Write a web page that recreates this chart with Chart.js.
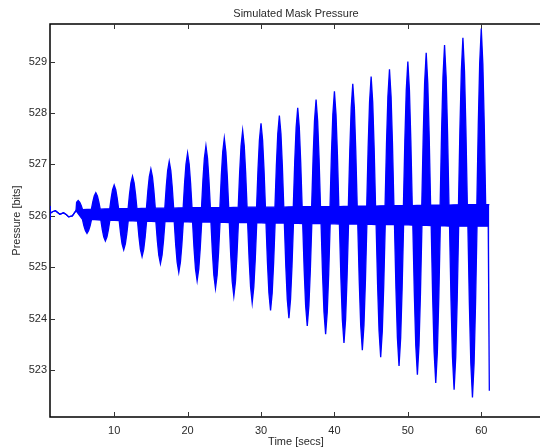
<!DOCTYPE html>
<html lang="en">
<head>
    <meta charset="UTF-8">
    <title>Simulated Mask Pressure</title>
    <script src="https://cdn.jsdelivr.net/npm/chart.js"></script>
    <style>
        html, body { margin: 0; padding: 0; background: #ffffff; }
        #chart { display: block; }
    </style>
</head>
<body>
    <canvas id="chart" width="540" height="447"></canvas>

    <script>
        // axis text
        const chartTitle = 'Simulated Mask Pressure';
        const xLabel = 'Time [secs]';
        const yLabel = 'Pressure [bits]';

        // axis limits and ticks
        const xMin = 1.26, xMax = 68;
        const yMin = 522.09, yMax = 529.73;
        const xTicks = [10, 20, 30, 40, 50, 60];
        const yTicks = [523, 524, 525, 526, 527, 528, 529];

        // thin start of the trace, before the dense band begins
        const startTime = 1.27;
        const startTop = 526.19;
        const startBottom = 525.93;
        const earlyTimes = [1.3, 1.6, 2.0, 2.6, 3.1, 3.5, 3.8, 4.3, 4.8];
        const earlyValues = [526.05, 526.08, 526.10, 526.03, 526.06, 526.02, 525.98, 526.00, 526.10];

        // upward spikes (one per breath)
        const peakTimes = [5.1, 7.5, 10, 12.5, 15, 17.5, 20, 22.5, 25, 27.5, 30, 32.5,
                           35, 37.5, 40, 42.5, 45, 47.5, 50, 52.5, 55, 57.5, 60];
        const peakValues = [526.30, 526.45, 526.60, 526.77, 526.91, 527.06, 527.22, 527.36,
                            527.51, 527.66, 527.80, 527.95, 528.10, 528.26, 528.42, 528.57,
                            528.71, 528.85, 529.00, 529.17, 529.32, 529.46, 529.64];
        // top edge of the dense band around each upward spike
        const bandTopValues = [526.12, 526.13, 526.14, 526.14, 526.15, 526.15, 526.16, 526.16,
                               526.16, 526.17, 526.17, 526.17, 526.18, 526.18, 526.18, 526.19,
                               526.19, 526.20, 526.20, 526.21, 526.21, 526.22, 526.22];

        // downward spikes
        const troughTimes = [6.3, 8.8, 11.3, 13.8, 16.3, 18.8, 21.3, 23.8, 26.3, 28.8, 31.3,
                             33.8, 36.3, 38.8, 41.3, 43.8, 46.3, 48.8, 51.3, 53.8, 56.3, 58.8];
        const troughValues = [525.66, 525.51, 525.34, 525.21, 525.07, 524.90, 524.74, 524.59,
                              524.44, 524.31, 524.16, 524.01, 523.86, 523.70, 523.53, 523.39,
                              523.25, 523.08, 522.91, 522.75, 522.62, 522.47];
        // bottom edge of the dense band around each downward spike
        const bandBottomValues = [525.93, 525.92, 525.91, 525.90, 525.89, 525.89, 525.88, 525.88,
                                  525.87, 525.87, 525.86, 525.86, 525.85, 525.85, 525.84, 525.84,
                                  525.83, 525.83, 525.82, 525.81, 525.80, 525.80];

        // end of the trace: a last drop
        const endTime = 61.1;
        const endValue = 522.6;

        // spike profile (offset as share of half width, height share)
        const lobeOffsets = [-1, -0.68, -0.36, 0, 0.36, 0.68, 1];
        const lobeHeights = [0, 0.45, 0.8, 1, 0.8, 0.45, 0];
        const peakHalfWidth = 0.6;
        const troughHalfWidth = 0.62;

        function addLobe(points, t, base, extreme, hw) {
            lobeOffsets.forEach((o, i) => {
                const x = t + o * hw;
                if (points.length && x <= points[points.length - 1].x) return;
                points.push({ x: x, y: base + lobeHeights[i] * (extreme - base) });
            });
        }

        const upper = [{ x: startTime, y: startTop }];
        const lower = [{ x: startTime, y: startBottom }];
        earlyTimes.forEach((t, i) => {
            upper.push({ x: t, y: earlyValues[i] });
            lower.push({ x: t, y: earlyValues[i] });
        });
        peakTimes.forEach((t, i) => addLobe(upper, t, bandTopValues[i], peakValues[i], peakHalfWidth));
        upper.push({ x: endTime, y: bandTopValues[bandTopValues.length - 1] });

        troughTimes.forEach((t, i) => addLobe(lower, t, bandBottomValues[i], troughValues[i], troughHalfWidth));
        lower.push({ x: endTime - 0.15, y: bandBottomValues[bandBottomValues.length - 1] });
        lower.push({ x: endTime, y: endValue });

        const textColor = '#2a2a2a';
        const fontFamily = '"Liberation Sans", Arial, sans-serif';

        const framePlugin = {
            id: 'frame',
            beforeDatasetsDraw(chart) {
                const { ctx, chartArea: a, scales } = chart;
                ctx.save();
                ctx.strokeStyle = '#000000';
                ctx.lineWidth = 1.5;
                ctx.beginPath();
                ctx.moveTo(a.right + 2, a.top);
                ctx.lineTo(a.left, a.top);
                ctx.lineTo(a.left, a.bottom);
                ctx.lineTo(a.right + 2, a.bottom);
                ctx.stroke();

                ctx.lineWidth = 1;
                ctx.strokeStyle = '#333333';
                ctx.beginPath();
                xTicks.forEach(v => {
                    const px = Math.round(scales.x.getPixelForValue(v)) + 0.5;
                    ctx.moveTo(px, a.bottom);
                    ctx.lineTo(px, a.bottom - 5);
                    ctx.moveTo(px, a.top);
                    ctx.lineTo(px, a.top + 5);
                });
                yTicks.forEach(v => {
                    const py = Math.round(scales.y.getPixelForValue(v)) + 0.5;
                    ctx.moveTo(a.left, py);
                    ctx.lineTo(a.left + 5, py);
                });
                ctx.stroke();
                ctx.restore();
            },
            afterDraw(chart) {
                const { ctx, chartArea: a } = chart;
                ctx.save();
                ctx.fillStyle = textColor;
                ctx.font = '11px ' + fontFamily;
                ctx.textAlign = 'center';
                ctx.textBaseline = 'middle';
                ctx.fillText(chartTitle, 296, 14);
                ctx.fillText(xLabel, 296, 442);
                ctx.translate(17, (a.top + a.bottom) / 2);
                ctx.rotate(-Math.PI / 2);
                ctx.fillText(yLabel, 0, 0);
                ctx.restore();
            }
        };

        new Chart(document.getElementById('chart').getContext('2d'), {
            type: 'line',
            data: {
                datasets: [
                    {
                        data: upper,
                        borderColor: '#0000ff',
                        backgroundColor: '#0000ff',
                        borderWidth: 1.3,
                        pointRadius: 0,
                        tension: 0,
                        fill: '+1'
                    },
                    {
                        data: lower,
                        borderColor: '#0000ff',
                        backgroundColor: '#0000ff',
                        borderWidth: 1.3,
                        pointRadius: 0,
                        tension: 0,
                        fill: false
                    }
                ]
            },
            options: {
                responsive: false,
                animation: false,
                devicePixelRatio: 1,
                layout: { padding: { top: 24, right: 0, bottom: 0, left: 0 } },
                plugins: {
                    legend: { display: false },
                    title: { display: false },
                    tooltip: { enabled: false }
                },
                scales: {
                    x: {
                        type: 'linear',
                        min: xMin,
                        max: xMax,
                        grid: { display: false, drawTicks: false },
                        border: { display: false },
                        afterBuildTicks: s => { s.ticks = xTicks.map(v => ({ value: v })); },
                        afterFit: s => { s.height = 30; },
                        ticks: {
                            padding: 7,
                            maxRotation: 0,
                            color: textColor,
                            font: { family: fontFamily, size: 11 }
                        }
                    },
                    y: {
                        min: yMin,
                        max: yMax,
                        grid: { display: false, drawTicks: false },
                        border: { display: false },
                        afterBuildTicks: s => { s.ticks = yTicks.map(v => ({ value: v })); },
                        afterFit: s => { s.width = 50; },
                        ticks: {
                            padding: 3,
                            color: textColor,
                            font: { family: fontFamily, size: 11 }
                        }
                    }
                }
            },
            plugins: [framePlugin]
        });
    </script>
</body>
</html>
